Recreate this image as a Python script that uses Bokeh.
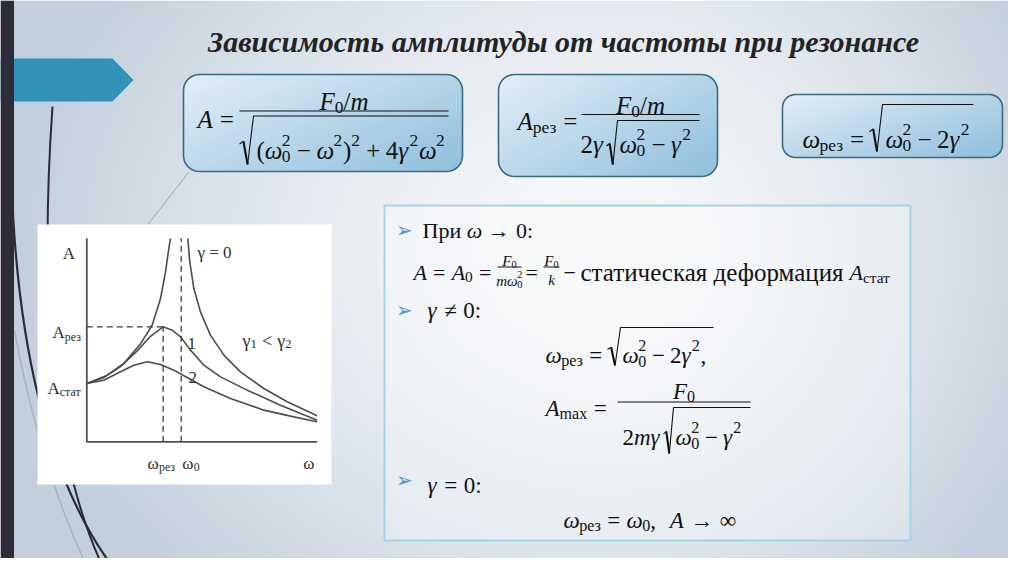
import numpy as np
from bokeh.plotting import figure
from bokeh.models import Range1d, ColumnDataSource
from bokeh.core.properties import field
from bokeh.embed import file_html
from bokeh.resources import INLINE

# ---------------- data (omega in units of omega0, A in units of A_stat)
free_w_up = [0.0, 0.216, 0.392, 0.569, 0.692, 0.781, 0.834, 0.869, 0.887]
free_A_up = [1.0, 1.143, 1.343, 1.68, 2.0, 2.458, 2.915, 3.316, 3.487]
free_w_down = [1.070, 1.091, 1.134, 1.204, 1.310, 1.452, 1.628, 1.875, 2.123, 2.440]
free_A_down = [3.487, 3.087, 2.629, 2.229, 1.829, 1.486, 1.200, 0.914, 0.686, 0.446]
g1_w = [0.0, 0.180, 0.357, 0.534, 0.675, 0.809, 0.904, 0.993, 1.099, 1.240, 1.416, 1.699, 2.052, 2.440]
g1_A = [1.0, 1.10, 1.29, 1.56, 1.81, 1.972, 1.915, 1.800, 1.572, 1.314, 1.114, 0.886, 0.628, 0.371]
g2_w = [0.0, 0.180, 0.357, 0.498, 0.640, 0.781, 0.922, 1.063, 1.240, 1.522, 1.875, 2.193, 2.440]
g2_A = [1.0, 1.057, 1.200, 1.314, 1.372, 1.326, 1.229, 1.103, 0.943, 0.743, 0.543, 0.428, 0.343]
omega_res = 0.809
omega_0 = 1.0
A_res = 1.972
A_stat = 1.0
w_axis_max = 2.44
A_axis_max = 3.49
title_text = "Зависимость амплитуды от частоты при резонансе"

# ---------------- page / figure (data units = screen pixels, y downwards negated)
W, H = 1008, 558
FONT = "Liberation Serif"
INK = "#111111"
CH_INK = "#2e2e2e"

p = figure(width=W, height=H, x_range=Range1d(0, W), y_range=Range1d(-H, 0),
           output_backend="svg", toolbar_location=None, min_border=0)
p.axis.visible = False
p.grid.visible = False
p.outline_line_color = None
p.border_fill_color = "white"
p.background_fill_color = "white"

# chart placement (screen pixels)
ORG_X, ORG_Y, UX, UY = 86.3, 441.3, 94.4, 58.3
p.extra_x_ranges = {"w": Range1d((0 - ORG_X) / UX, (W - ORG_X) / UX)}
p.extra_y_ranges = {"A": Range1d((ORG_Y - H) / UY, (ORG_Y - 0) / UY)}


def px(w):
    return ORG_X + UX * w


def py(a):
    return ORG_Y - UY * a


def pack(rgb, alpha):
    h, w = alpha.shape
    img = np.empty((h, w), dtype=np.uint32)
    v = img.view(np.uint8).reshape((h, w, 4))
    v[..., 0] = np.clip(rgb[..., 0], 0, 255).astype(np.uint8)
    v[..., 1] = np.clip(rgb[..., 1], 0, 255).astype(np.uint8)
    v[..., 2] = np.clip(rgb[..., 2], 0, 255).astype(np.uint8)
    v[..., 3] = np.clip(alpha * 255, 0, 255).astype(np.uint8)
    return img


# ---------------- background gradient
nx, ny = 252, 140
gx = (np.arange(nx) + 0.5) * W / nx
gy = H - (np.arange(ny) + 0.5) * H / ny
Xg, Yg = np.meshgrid(gx, gy)
rx = np.where(Xg < 610, 600.0, 470.0)
t = np.clip(np.sqrt(((Xg - 610) / rx) ** 2 + ((Yg - 250) / 470.0) ** 2), 0, 1) ** 1.6
c0 = np.array([247, 248, 250.0])
c1 = np.array([194, 208, 221.0])
bg = c0 * (1 - t[..., None]) + c1 * t[..., None]
p.image_rgba(image=[pack(bg, np.ones_like(t))], x=0, y=-H, dw=W, dh=H)

# ---------------- decorative strokes
p.quadratic(x0=[11], y0=[-180], x1=[118], y1=[-574], cx=[20], cy=[-450], line_color="#2c2a38", line_width=2.2)
p.quadratic(x0=[52], y0=[-106], x1=[106], y1=[-574], cx=[30], cy=[-420], line_color="#2c2a38", line_width=2.0)
p.quadratic(x0=[14], y0=[-330], x1=[90], y1=[-574], cx=[40], cy=[-470], line_color="#a8b3bd", line_width=1.5)
p.line([188, 145], [-172, -227], line_color="#9aa6b0", line_width=1.0)
p.patch([0, 112, 133, 112, 0], [-58, -58, -79.5, -101, -101], fill_color="#3193b8", line_color=None)
p.quad(left=[0], right=[13.5], top=[0], bottom=[-H], fill_color="#2e2b3a", line_color=None)

# ---------------- chart white card
p.quad(left=[37], right=[331], top=[-224], bottom=[-484], fill_color="white", line_color=None)


# ---------------- formula boxes (gradient with rounded mask)
def rr_path(x0, y0, x1, y1, r, n=10):
    xs, ys = [], []
    for cx, cy, a0 in [(x1 - r, y0 + r, -90), (x1 - r, y1 - r, 0), (x0 + r, y1 - r, 90), (x0 + r, y0 + r, 180)]:
        for k in range(n + 1):
            a = np.radians(a0 + 90.0 * k / n)
            xs.append(cx + r * np.cos(a))
            ys.append(-(cy + r * np.sin(a)))
    return xs, ys


def formula_box(x0, y0, x1, y1, r):
    w = int(round(x1 - x0))
    h = int(round(y1 - y0))
    X = x0 + (np.arange(w) + 0.5)[None, :]
    Y = y1 - (np.arange(h) + 0.5)[:, None]
    qx = np.maximum(np.abs(X - (x0 + x1) / 2) - ((x1 - x0) / 2 - r), 0)
    qy = np.maximum(np.abs(Y - (y0 + y1) / 2) - ((y1 - y0) / 2 - r), 0)
    d = np.sqrt(qx ** 2 + qy ** 2) - r
    alpha = np.clip(0.5 - d, 0, 1)
    tt = np.clip(0.55 * (X - x0) / (x1 - x0) + 0.45 * (Y - y0) / (y1 - y0), 0, 1)
    light = np.array([228, 239, 247.0])
    dark = np.array([143, 191, 221.0])
    rgb = light * (1 - tt[..., None]) + dark * tt[..., None]
    p.image_rgba(image=[pack(rgb, alpha)], x=x0, y=-y1, dw=x1 - x0, dh=y1 - y0)
    xs, ys = rr_path(x0, y0, x1, y1, r)
    p.patch(xs, ys, fill_color=None, line_color="#3a6a80", line_width=1.6)


formula_box(183, 74, 462, 171, 16)
formula_box(498, 74, 717, 176, 16)
formula_box(782, 94, 1002, 157, 13)

# info panel
p.quad(left=[384], right=[910], top=[-205], bottom=[-540], fill_color="white", fill_alpha=0.3,
       line_color="#a6d2e6", line_width=2)

# ---------------- chart marks (through the chart's own ranges)
CURVE = "#4d4d4d"
kw = dict(x_range_name="w", y_range_name="A")
p.line([0, 0, w_axis_max], [A_axis_max, 0, 0], line_color="#505050", line_width=1.8, **kw)
p.line(free_w_up, free_A_up, line_color=CURVE, line_width=1.6, **kw)
p.line(free_w_down, free_A_down, line_color=CURVE, line_width=1.6, **kw)
p.line(g1_w, g1_A, line_color=CURVE, line_width=1.6, **kw)
p.line(g2_w, g2_A, line_color=CURVE, line_width=1.6, **kw)
p.line([0, omega_res], [A_res, A_res], line_color="#3c3c3c", line_width=1.3, line_dash="6 4", **kw)
p.line([omega_res, omega_res], [0, A_res], line_color="#3c3c3c", line_width=1.3, line_dash="6 4", **kw)
p.line([omega_0, omega_0], [0, A_axis_max], line_color="#3c3c3c", line_width=1.3, line_dash="6 4", **kw)

# ---------------- text machinery
WR = {' ': .25, '(': .333, ')': .333, ',': .25, '/': .278, ':': .278, '=': .564, '+': .564, '−': .564,
      '<': .564, '→': 1.0, '∞': .713, '≠': .549, 'a': .444, 'm': .778, 'x': .5, 'ω': .68, 'γ': .45, 'A': .722,
      'р': .5, 'е': .444, 'з': .395, 'с': .444, 'т': .437, 'а': .444, 'П': .722, 'и': .535, 'ч': .503,
      'к': .486, 'я': .467, 'д': .509, 'ф': .648, 'о': .5, 'м': .633, 'ц': .535}
for dgt in "0123456789":
    WR[dgt] = .5
WI = {'A': .611, 'F': .611, 'm': .722, 'k': .444, 'ω': .68, 'γ': .45}


def wid(s, italic):
    tab = WI if italic else WR
    return sum(tab.get(c, WR.get(c, .5)) for c in s)


TX = {k: [] for k in ("x", "y", "text", "size", "style", "font", "color", "align")}


def put(x, y, s, size, style="normal", font=FONT, color=INK, align="left"):
    TX["x"].append(x)
    TX["y"].append(-y)
    TX["text"].append(s)
    TX["size"].append("%.1fpx" % size)
    TX["style"].append(style)
    TX["font"].append(font)
    TX["color"].append(color)
    TX["align"].append(align)


def run(tokens, x, y, size, align="left", color=INK):
    items = []
    cx = 0.0
    for tok in tokens:
        k = tok[0]
        if k == "v":
            items.append((cx, 0, tok[1], size, "italic"))
            cx += wid(tok[1], True) * size
        elif k == "t":
            items.append((cx, 0, tok[1], size, "normal"))
            cx += wid(tok[1], False) * size
        elif k in ("r", "b"):
            pad = (0.28 if k == "r" else 0.22) * size
            cx += pad
            items.append((cx, 0, tok[1], size, "normal"))
            cx += wid(tok[1], False) * size + pad
        elif k == "sub":
            s2 = 0.7 * size
            items.append((cx, 0.22 * size, tok[1], s2, "normal"))
            cx += wid(tok[1], False) * s2
        elif k == "sup":
            s2 = 0.7 * size
            items.append((cx, -0.42 * size, tok[1], s2, "normal"))
            cx += wid(tok[1], False) * s2 + 0.03 * size
        elif k == "ss":
            s2 = 0.7 * size
            items.append((cx, -0.42 * size, tok[1], s2, "normal"))
            items.append((cx, 0.25 * size, tok[2], s2, "normal"))
            cx += max(wid(tok[1], False), wid(tok[2], False)) * s2 + 0.03 * size
        elif k == "sp":
            cx += tok[1] * size
    x0 = x - cx / 2 if align == "center" else (x - cx if align == "right" else x)
    for dx, dy, s, sz, st in items:
        put(x0 + dx, y + dy, s, sz, st, FONT, color)
    return x0 + cx


SEG = {"xs": [], "ys": [], "w": []}


def seg(xs, ys, w):
    SEG["xs"].append(list(xs))
    SEG["ys"].append([-v for v in ys])
    SEG["w"].append(w)


def radical(x, yt, yb, x_end, w):
    h = yb - yt
    seg([x, x + 0.28 * w], [yb - 0.42 * h, yb - 0.48 * h], 1.1)
    seg([x + 0.28 * w, x + 0.58 * w], [yb - 0.48 * h, yb], 2.1)
    seg([x + 0.58 * w, x + w, x_end], [yb, yt, yt], 1.1)


# ---------------- title
put(563, 41, title_text, 30, "bold italic", FONT, "#232323", "center")

# ---------------- box 1
FB = 25
run([("v", "A"), ("r", "=")], 197, 119, FB)
seg([239, 448], [110.5, 110.5], 1.2)
run([("v", "F"), ("sub", "0"), ("t", "/"), ("v", "m")], 343.5, 101, FB, "center")
radical(239, 115.5, 164, 448, 14)
run([("t", "("), ("v", "ω"), ("ss", "2", "0"), ("b", "−"), ("v", "ω"), ("sup", "2"), ("t", ")"), ("sup", "2"),
     ("b", "+"), ("t", "4"), ("v", "γ"), ("sup", "2"), ("v", "ω"), ("sup", "2")], 256, 150, FB)

# ---------------- box 2
run([("v", "A"), ("sub", "рез"), ("r", "=")], 517, 121, FB)
seg([581, 699], [114, 114], 1.2)
run([("v", "F"), ("sub", "0"), ("t", "/"), ("v", "m")], 640, 105, FB, "center")
run([("t", "2"), ("v", "γ")], 580, 144, FB)
radical(606, 120, 164, 699, 11)
run([("v", "ω"), ("ss", "2", "0"), ("b", "−"), ("v", "γ"), ("sup", "2")], 619, 144, FB)

# ---------------- box 3
run([("v", "ω"), ("sub", "рез"), ("r", "=")], 802, 139, FB)
radical(869, 104, 151, 973, 13)
run([("v", "ω"), ("ss", "2", "0"), ("b", "−"), ("t", "2"), ("v", "γ"), ("sup", "2")], 885, 139, FB)

# ---------------- info panel
for by in (222, 302, 472):
    put(404, by + 7, "➢", 20, "normal", "DejaVu Sans", "#3a9dcf", "center")
FP = 23
run([("t", "При"), ("sp", 0.25), ("v", "ω"), ("r", "→"), ("t", "0:")], 422, 230, 22)
run([("v", "A"), ("r", "="), ("v", "A"), ("sub", "0"), ("r", "=")], 413, 272, 22)
seg([497, 521], [266.5, 266.5], 1.0)
run([("v", "F"), ("sub", "0")], 509, 260.5, 15, "center")
run([("v", "m"), ("v", "ω"), ("ss", "2", "0")], 509, 280, 15, "center")
run([("t", "=")], 525, 272, 22)
seg([543, 559], [266.5, 266.5], 1.0)
run([("v", "F"), ("sub", "0")], 551, 260.5, 15, "center")
run([("v", "k")], 551, 279, 15, "center")
run([("t", "−")], 563, 272, 22)
run([("t", "статическая деформация")], 580, 272, 25)
run([("v", "A"), ("sub", "стат")], 849, 272, 22)

run([("v", "γ"), ("r", "≠"), ("t", "0:")], 427, 310, FP)

run([("v", "ω"), ("sub", "рез"), ("r", "=")], 545, 355, FP)
radical(607, 327, 365, 713, 13)
run([("v", "ω"), ("ss", "2", "0"), ("b", "−"), ("t", "2"), ("v", "γ"), ("sup", "2"), ("t", ",")], 622, 355, FP)

run([("v", "A"), ("sub", "max"), ("r", "=")], 545, 408, FP)
seg([617, 750], [401.5, 401.5], 1.2)
run([("v", "F"), ("sub", "0")], 683.5, 391, FP, "center")
run([("t", "2"), ("v", "m"), ("v", "γ")], 622, 437, FP)
radical(663, 407, 453, 750, 10)
run([("v", "ω"), ("ss", "2", "0"), ("b", "−"), ("v", "γ"), ("sup", "2")], 675, 437, FP)

run([("v", "γ"), ("r", "="), ("t", "0:")], 427, 485, FP)
run([("v", "ω"), ("sub", "рез"), ("r", "="), ("v", "ω"), ("sub", "0"), ("t", ","), ("sp", 0.6),
     ("v", "A"), ("r", "→"), ("t", "∞")], 563, 520, FP)

# ---------------- chart labels
FC = 17
run([("t", "A")], px(0) - 24, 253, FC, color=CH_INK)
run([("t", "A"), ("sub", "рез")], px(0) - 6, py(A_res) + 6, FC, "right", CH_INK)
run([("t", "A"), ("sub", "стат")], px(0) - 6, py(A_stat) + 5, FC, "right", CH_INK)
run([("t", "ω"), ("sub", "рез")], px(omega_res) - 2, 463, FC, "center", CH_INK)
run([("t", "ω"), ("sub", "0")], px(omega_0) + 1, 463, FC, "left", CH_INK)
run([("t", "ω")], px(w_axis_max) - 14, 463, FC, color=CH_INK)
run([("t", "γ = 0")], 197, 252, FC, color=CH_INK)
run([("t", "1")], 187, 343, FC, color=CH_INK)
run([("t", "2")], 188, 377, FC, color=CH_INK)
run([("t", "γ"), ("sub", "1"), ("r", "<"), ("t", "γ"), ("sub", "2")], 242, 340, 18, color=CH_INK)

# ---------------- draw strokes and texts
p.multi_line(xs="xs", ys="ys", line_width="w", line_color="#111111", source=ColumnDataSource(SEG))
p.text(x="x", y="y", text="text", source=ColumnDataSource(TX), text_font=field("font"),
       text_font_size=field("size"), text_font_style=field("style"), text_color=field("color"),
       text_align=field("align"), text_baseline="alphabetic")

open("out.html", "w").write(file_html(p, INLINE))
